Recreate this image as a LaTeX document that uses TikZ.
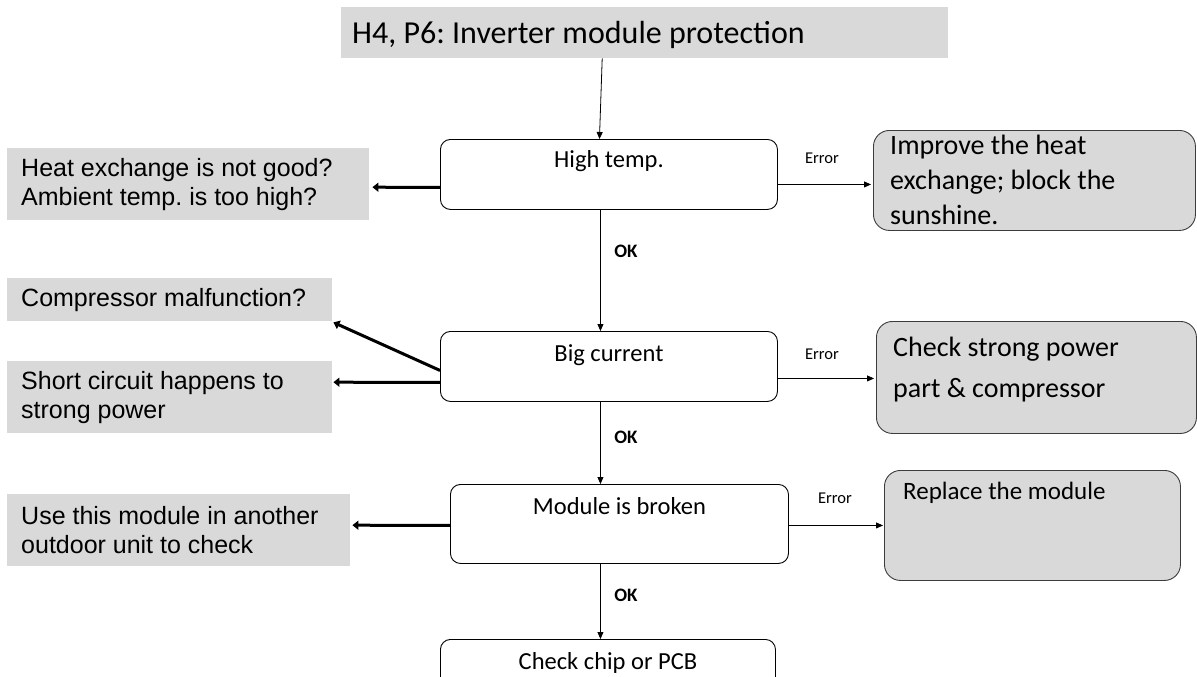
\documentclass[tikz,border=0pt]{standalone}
\usepackage{fontspec}
\setmainfont{Carlito}
\newfontfamily\arialf{Liberation Sans}
\newfontfamily\calib{Carlito}
\usetikzlibrary{calc,arrows.meta}
\definecolor{boxgray}{RGB}{217,217,217}
\definecolor{edgegray}{RGB}{60,60,60}
\frenchspacing
\begin{document}
\begin{tikzpicture}[x=1pt,y=-1pt,
  graybox/.style={fill=boxgray,draw=none,inner sep=0pt,anchor=north west},
  wbox/.style={draw=black,line width=0.9pt,rounded corners=10pt,fill=white,inner sep=0pt,anchor=north west},
  rbox/.style={draw=edgegray,line width=0.9pt,rounded corners=16pt,fill=boxgray,inner sep=0pt,anchor=north west},
  ltext/.style={font=\arialf\fontsize{25}{29}\selectfont,align=left,inner sep=0pt,anchor=west},
  ctext/.style={font=\calib\fontsize{24.5}{28}\selectfont,inner sep=0pt,anchor=base},
  rtext/.style={font=\calib\fontsize{28}{35}\selectfont,align=left,inner sep=0pt,anchor=north west},
  errl/.style={font=\calib\fontsize{16.5}{18}\selectfont,inner sep=0pt,anchor=base},
  okl/.style={font=\calib\bfseries\fontsize{19}{20}\selectfont,inner sep=0pt,anchor=base},
  thin/.style={line width=0.8pt,-{Triangle[length=7pt,width=6pt]}},
  thick/.style={line width=3pt,-{Triangle[length=6pt,width=9pt]}}]
\useasboundingbox (0,0) rectangle (1197,677);
% title
\node[graybox,minimum width=607,minimum height=51] (title) at (341,7) {};
\node[font=\calib\fontsize{32}{38}\selectfont,inner sep=0pt,anchor=base west] (titletxt) at (352,44) {H4, P6: Inverter module protection};
% central boxes
\node[wbox,minimum width=337,minimum height=70] (ht) at (440,139) {};
\node[ctext] (httxt) at ($(ht.north)+(0,28)$) {High temp.};
\node[wbox,minimum width=337,minimum height=70] (bc) at (440,331) {};
\node[ctext] (bctxt) at ($(bc.north)+(0,30)$) {Big current};
\node[wbox,minimum width=338,minimum height=79] (mb) at (450,484) {};
\node[ctext] (mbtxt) at ($(mb.north)+(0,30)$) {Module is broken};
\node[wbox,minimum width=335,minimum height=70] (cc) at (440,639) {};
\node[ctext] (cctxt) at ($(cc.north)+(0,30)$) {Check chip or PCB};
% left boxes
\node[graybox,minimum width=362,minimum height=72] (l1) at (7,148) {};
\node[ltext] (l1t) at ($(l1.west)+(14,0)$) {Heat exchange is not good?\\Ambient temp. is too high?};
\node[graybox,minimum width=325,minimum height=43] (l2) at (7,278) {};
\node[ltext] (l2t) at ($(l2.west)+(14,0)$) {Compressor malfunction?};
\node[graybox,minimum width=325,minimum height=72] (l3) at (7,361) {};
\node[ltext] (l3t) at ($(l3.west)+(14,0)$) {Short circuit happens to\\strong power};
\node[graybox,minimum width=343,minimum height=72] (l4) at (7,494) {};
\node[ltext] (l4t) at ($(l4.west)+(14,0)$) {Use this module in another\\outdoor unit to check};
% right boxes
\node[rbox,minimum width=322,minimum height=100] (r1) at (873,130) {};
\node[rtext] (r1t) at ($(r1.north west)+(17,5)$) {Improve the heat\\exchange; block the\\sunshine.};
\node[rbox,minimum width=320,minimum height=112] (r2) at (876,321) {};
\node[rtext,font=\calib\fontsize{28}{41}\selectfont] (r2t) at ($(r2.north west)+(17,16)$) {Check strong power\\part \& compressor};
\node[rbox,minimum width=296,minimum height=110] (r3) at (884,470) {};
\node[rtext,font=\calib\fontsize{25}{30}\selectfont] (r3t) at ($(r3.north west)+(19,12)$) {Replace the module};
% labels
\node[errl] (e1) at (822,163) {Error};
\node[errl] (e2) at (822,359) {Error};
\node[errl] (e3) at (835,503) {Error};
\node[okl] (o1) at (626,257) {OK};
\node[okl] (o2) at (626,443) {OK};
\node[okl] (o3) at (626,601) {OK};
% connectors
\draw[thin] ($(title.south)+(-42.5,0)$) -- ($(ht.north)+(-9.5,0)$);
\draw[thin] ($(ht.south)+(-8.5,0)$) -- ($(bc.north)+(-8.5,0)$);
\draw[thin] ($(bc.south)+(-8.5,0)$) -- ($(mb.north)+(-19,0)$);
\draw[thin] ($(mb.south)+(-19,0)$) -- ($(cc.north)+(-7.5,0)$);
\draw[thin] ($(ht.east)+(0,10)$) -- ($(r1.west)+(-2,4)$);
\draw[thin] ($(bc.east)+(0,12)$) -- ($(r2.west)+(-2,1)$);
\draw[thin] ($(mb.east)+(0,1.5)$) -- ($(r3.west)+(-1,0)$);
\draw[thick] ($(ht.west)+(0,13)$) -- ($(l1.east)+(3,3)$);
\draw[thick] ($(bc.west)+(0,4)$) -- ($(l2.south east)+(1,1)$);
\draw[thick] ($(bc.west)+(0,16)$) -- ($(l3.east)+(1,-15)$);
\draw[thick] ($(mb.west)+(0,1.5)$) -- ($(l4.east)+(2,-5)$);
\end{tikzpicture}
\end{document}
